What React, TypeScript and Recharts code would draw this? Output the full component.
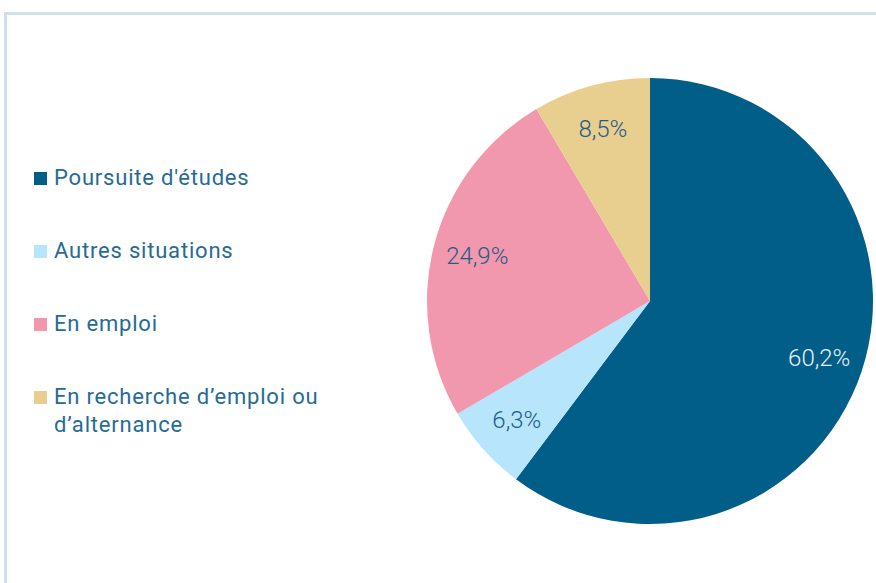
import React from "react";
import { PieChart, Pie, Cell } from "recharts";

const categories = ["Poursuite d'études", "Autres situations", "En emploi", "En recherche d’emploi ou d’alternance"];
const values = [60.2, 6.3, 24.9, 8.5];
const labels = ["60,2%", "6,3%", "24,9%", "8,5%"];
const colors = ["#005e89", "#b7e5fb", "#f197ae", "#e8ce8f"];
const labelColors = ["#e8f1f6", "#1f5d89", "#1f5d89", "#1f5d89"];

const data = categories.map((name, i) => ({ name, value: values[i], label: labels[i] }));

const RAD = Math.PI / 180;

const renderLabel = (props: any) => {
  const { cx, cy, midAngle, outerRadius, index } = props;
  const r = outerRadius * 0.8;
  const x = cx + r * Math.cos(-midAngle * RAD);
  const y = cy + r * Math.sin(-midAngle * RAD);
  return (
    <text
      x={x}
      y={y}
      fill={labelColors[index]}
      textAnchor="middle"
      dominantBaseline="central"
      fontFamily="Roboto"
      fontWeight={300}
      fontSize={24}
    >
      {labels[index]}
    </text>
  );
};

const LegendBox = () => (
  <div style={{ position: "absolute", left: 34, top: 164, fontFamily: "Roboto", fontSize: 22, color: "#256b95", width: 310, letterSpacing: 0.8 }}>
    {categories.map((c, i) => (
      <div key={c} style={{ display: "flex", alignItems: "flex-start", marginBottom: i === 3 ? 0 : 45, lineHeight: "28px" }}>
        <span style={{ display: "inline-block", width: 13, height: 13, background: colors[i], marginTop: 8, marginRight: 7, flexShrink: 0 }} />
        <span style={{ width: 285 }}>{c}</span>
      </div>
    ))}
  </div>
);

export default function App() {
  return (
    <div style={{ position: "absolute", left: 0, top: 0, width: 876, height: 583, background: "#fff", overflow: "hidden" }}>
      <div style={{ position: "absolute", left: 4, top: 12, width: 880, height: 600, borderTop: "3px solid #cfe0ea", borderLeft: "3px solid #cfe0ea" }} />
      <div style={{ position: "absolute", left: 0, top: 0 }}>
        <PieChart width={876} height={583} margin={{ top: 0, right: 0, bottom: 0, left: 0 }}>
          <Pie
            data={data}
            dataKey="value"
            nameKey="name"
            cx={650}
            cy={301}
            outerRadius={223}
            startAngle={90}
            endAngle={-270}
            stroke="none"
            label={renderLabel}
            labelLine={false}
            isAnimationActive={false}
          >
            {data.map((d, i) => (
              <Cell key={d.name} fill={colors[i]} />
            ))}
          </Pie>
        </PieChart>
      </div>
      <LegendBox />
    </div>
  );
}
